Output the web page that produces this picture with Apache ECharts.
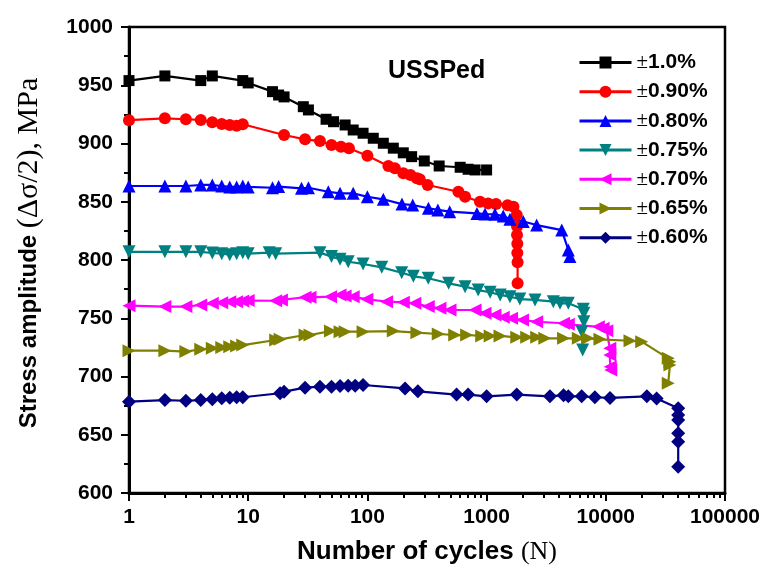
<!DOCTYPE html>
<html><head><meta charset="utf-8">
<script src="https://cdn.jsdelivr.net/npm/echarts@6/dist/echarts.min.js"></script>
<style>html,body{margin:0;padding:0;background:#fff}#c{width:768px;height:579px}</style>
</head><body><div id="c"></div>
<script>
// ---- data (N cycles, stress amplitude MPa) ----
const seriesNames = ['±1.0%','±0.90%','±0.80%','±0.75%','±0.70%','±0.65%','±0.60%'];
const N10 = [1,2,4,5,9,10,16,18,20,29,32,45,52,65,76,92,112,136,165,200,235,300,400,600,700,800,1000];
const V10 = [954,958,954,958,954,952,944.5,941.6,940,931.6,928.8,920.8,918.7,915.9,911.6,908.8,904.5,900.2,896,892,888.7,885,880.7,879.6,877.9,877.3,877.3];
const N090 = [1,2,3,4,5,6,7,8,9,20,30,40,50,60,70,100,150,170,200,230,260,275,320,580,660,880,1030,1200,1500,1680,1790,1800,1800,1810,1810,1820,1820];
const V090 = [920,921.6,920.8,920.2,918.2,916.7,915.9,915.3,916.5,907.3,903.6,902.1,898.7,897.3,895.9,889.5,880.7,878.7,874.4,873,870.1,869.3,864.4,858.6,854.3,850,848.6,848,847,845.8,838.6,829,821.5,814,806,798,780];
const N080 = [1,2,3,4,5,6,7,8,9,10,16,18,28,32,47,59,76,100,136,195,240,325,390,490,830,970,1175,1380,1570,2030,2630,4270,4850,5000];
const V080 = [863.5,863.5,863.5,864.4,864.4,863.5,862.7,862.7,863.5,862.7,862,863,861.5,862,858.6,857.2,857.2,854.3,852.1,848,847.2,844.4,843,841.5,840,839.5,839.2,837.8,835,833,830,825.7,808.6,802.9];
const N075 = [1,2,3,4,5,6,7,8,9,10,15,17,40,50,59,69,92,132,194,243,324,480,660,850,1070,1300,1570,1900,2550,3630,4130,4850,6470,6550,6550,6300,6400];
const V075 = [807,807,807,807,806,805.4,804.6,805.4,806.3,805.4,806.3,805.4,806.3,802.9,800.6,798.5,796.6,793.7,789.1,786,784.3,780,777.1,774.2,772.3,770,768.5,766.5,765.7,764.2,762.8,762.8,757.7,754.2,747,738.5,722.7];
const N070 = [1,2,3,4,5,6,7,8,9,10,17,19,30,33,49,59,65,76,99,145,200,250,324,406,493,800,970,1175,1380,1620,2000,2630,4420,4850,8650,9500,10200,10800,10800,10900,11000];
const V070 = [760.8,760,760,761.4,762.8,763.4,764.2,764.2,764.8,765.2,765,765.7,768,768,768.5,770,769.1,768.5,766.3,764.2,763.7,762.8,760,758.5,757.1,757.1,754.2,752.8,750.8,750,748.5,747,745.7,744.8,742.7,741.4,739.3,724.2,718.5,708.4,705.6];
const N065 = [1,2,3,4,5,6,7,8,9,17,18.5,30,33,49,59,65,92,165,260,393,540,680,910,1070,1295,1790,2170,2630,3080,4420,5880,7100,8930,15950,20000,33400,34500,34500,33400];
const V065 = [722.2,722.2,721.4,723.4,724.2,725,725.6,726.2,727,731.3,731.9,735.6,735.6,739,738.5,738.5,738.5,739,737.6,736.5,735.6,735.6,734.8,734.8,734.8,733.6,733.6,733.6,732.8,732.8,732.8,732.8,731.9,730.7,729.9,715.6,712.7,709.8,694.2];
const N060 = [1,2,3,4,5,6,7,8,9,18.5,20,30,40,50,59,69,79,92,207,265,560,700,1000,1790,3400,4420,4850,6280,8100,10840,22100,26700,40500,40500,40500,40500,40500,40500];
const V060 = [678.4,679.8,679.2,679.8,680.4,681.3,681.8,682.2,682.2,685.6,687,690.4,691.3,691.3,691.8,692.1,692.1,692.7,689.8,687.3,684.5,684.5,683,684.5,683,684,683,683,682.2,681.6,683,681.1,672.7,666.9,662.7,651.2,644,622.5];
const xTicks = [1,10,100,1000,10000,100000];
const xMinor = [2,3,4,5,6,7,8,9,20,30,40,50,60,70,80,90,200,300,400,500,600,700,800,900,2000,3000,4000,5000,6000,7000,8000,9000,20000,30000,40000,50000,60000,70000,80000,90000];

const allN = [N10,N090,N080,N075,N070,N065,N060];
const allV = [V10,V090,V080,V075,V070,V065,V060];
const colors = ['#000000','#ff0000','#0000ff','#008080','#ff00ff','#808000','#000080'];
const symbols = ['rect','circle','triangle','triangle','triangle','triangle','diamond'];
const rots = [0,0,0,180,90,-90,0];
const sizes = [11,12,13,13,13,13,14];

const chart = echarts.init(document.getElementById('c'), null, {renderer:'canvas'});
const sans = 'Liberation Sans, Arial, sans-serif';
const serif = 'Liberation Serif, Times New Roman, serif';
const series = seriesNames.map((name,i)=>({
  name, type:'line', xAxisIndex:0, yAxisIndex:0,
  data: allN[i].map((n,j)=>[n, allV[i][j]]),
  symbol: symbols[i], symbolSize: sizes[i], symbolRotate: rots[i],
  itemStyle:{color:colors[i]}, lineStyle:{color:colors[i], width:2.2},
  animation:false
}));
chart.setOption({
  animation:false,
  grid:{left:129, right:43, top:27, bottom:86, show:true, borderColor:'#000', borderWidth:2.5, backgroundColor:'transparent'},
  legend:{
    orient:'vertical', left:573, top:47, itemWidth:52, itemHeight:15, itemGap:8.2,
    data: seriesNames,
    lineStyle:{width:3},
    formatter: n => '{pm|±}{t|' + n.slice(1) + '}',
    textStyle:{rich:{
      pm:{fontFamily:serif, fontSize:21, color:'#000', lineHeight:21},
      t:{fontFamily:sans, fontWeight:'bold', fontSize:21, color:'#000', lineHeight:21}
    }}
  },
  xAxis:[{
    type:'log', logBase:10, min:1, max:100000, position:'bottom',
    axisLine:{lineStyle:{color:'#000', width:3}},
    axisTick:{show:true, inside:false, length:8, lineStyle:{color:'#000', width:2}, customValues: xTicks},
    axisLabel:{color:'#000', fontFamily:sans, fontWeight:'bold', fontSize:21, margin:14, customValues: xTicks, formatter: v => String(Math.round(v))},
    splitLine:{show:false},
    name:'{b|Number of cycles }{s|(N)}', nameLocation:'middle', nameGap:46,
    nameTextStyle:{rich:{
      b:{fontFamily:sans, fontWeight:'bold', fontSize:26, color:'#000'},
      s:{fontFamily:serif, fontSize:26, color:'#000'}
    }}
  },{
    type:'log', logBase:10, min:1, max:100000, position:'bottom',
    axisLine:{show:false},
    axisTick:{show:true, inside:false, length:5, lineStyle:{color:'#000', width:2}, customValues: xMinor},
    axisLabel:{show:false},
    splitLine:{show:false}
  }],
  yAxis:[{
    type:'value', min:600, max:1000, interval:50,
    axisLine:{show:true, lineStyle:{color:'#000', width:3}},
    axisTick:{show:true, inside:false, length:8, lineStyle:{color:'#000', width:2}},
    minorTick:{show:true, splitNumber:2, length:5, lineStyle:{color:'#000', width:2}},
    axisLabel:{color:'#000', fontFamily:sans, fontWeight:'bold', fontSize:21, margin:16, formatter: v => String(v)},
    splitLine:{show:false},
    name:'{b|Stress amplitude }{s|(Δσ/2), MPa}', nameLocation:'middle', nameGap:85,
    nameTextStyle:{padding:[0,0,0,14], rich:{
      b:{fontFamily:sans, fontWeight:'bold', fontSize:24, color:'#000'},
      s:{fontFamily:serif, fontSize:30, color:'#000'}
    }}
  }],
  graphic:[{type:'text', left:388, top:59, style:{text:'USSPed', fontFamily:sans, fontWeight:'bold', fontSize:25, fill:'#000'}}],
  series
});
</script></body></html>
